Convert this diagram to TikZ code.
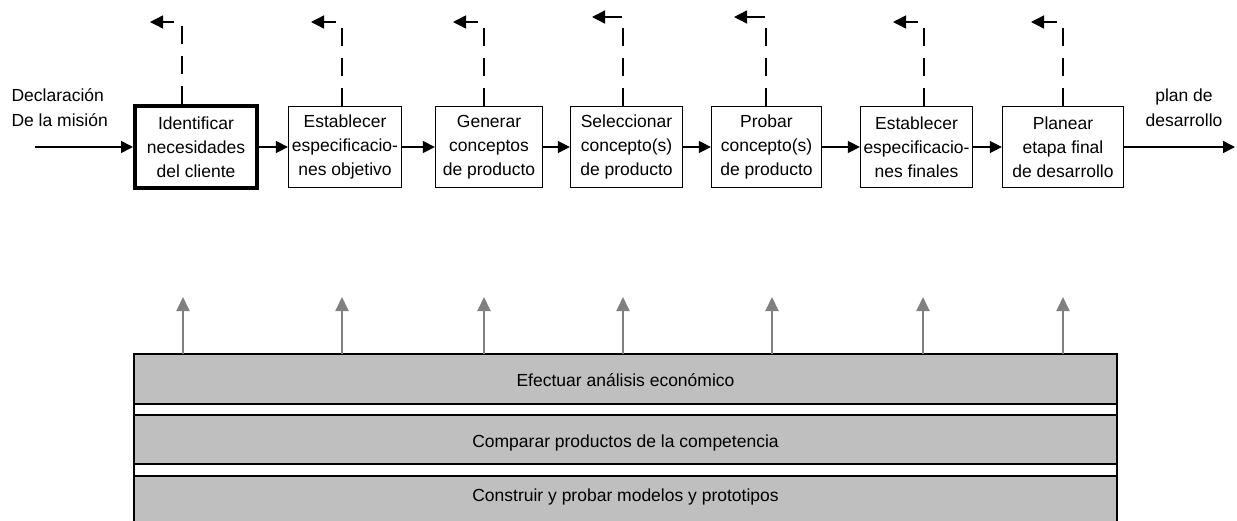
\documentclass[tikz,border=0pt]{standalone}
\usepackage{fontspec}
\setmainfont{Liberation Sans}
\usepackage{xcolor}
\usetikzlibrary{positioning, calc, arrows.meta}

\tikzset{
  stage/.style={draw, line width=1.3pt, inner sep=0pt, minimum height=81pt, align=center, font=\fontsize{17.5}{24}\selectfont},
  flow/.style={line width=1.5pt, -{Triangle[length=12pt,width=12pt]}},
  feedback/.style={line width=1.3pt, dash pattern=on 18pt off 12pt, -{Triangle[length=13pt,width=13pt]}},
  support/.style={draw=gray, line width=2pt, -{Triangle[length=14pt,width=13pt]}},
  bar/.style={draw, line width=1.3pt, fill=lightgray, minimum width=983pt, inner sep=0pt, outer sep=0pt, text height=15pt, text depth=0pt, font=\fontsize{17.5}{24}\selectfont},
}

\begin{document}
\begin{tikzpicture}[x=1pt, y=-1pt]
        \path[use as bounding box] (0,0) rectangle (1237,520);
        \clip (0,0) rectangle (1237,520);
        % etapas
        \node[stage, line width=4pt, minimum width=122pt, minimum height=82pt] (b1) at (196,147) {Identificar\\necesidades\\del cliente};
        \node[stage, minimum width=113pt] (b2) at (345,147) {Establecer\\especificacio-\\nes objetivo};
        \node[stage, minimum width=107pt] (b3) at (489,147) {Generar\\conceptos\\de producto};
        \node[stage, minimum width=112pt] (b4) at (626.5,147) {Seleccionar\\concepto(s)\\de producto};
        \node[stage, minimum width=110pt] (b5) at (766.5,147) {Probar\\concepto(s)\\de producto};
        \node[stage, minimum width=112pt] (b6) at (916.5,147) {Establecer\\especificacio-\\nes finales};
        \node[stage, minimum width=121pt] (b7) at (1063,147) {Planear\\etapa final\\de desarrollo};
        \node[anchor=west, align=left, font=\fontsize{17.5}{25}\selectfont] (mision) at (8,108) {Declaración\\De la misión};
        \node[align=center, font=\fontsize{17.5}{25}\selectfont] (plan) at (1184,108) {plan de\\desarrollo};
        \coordinate (in) at (35,147);
        \coordinate (out) at (1235,147);
        \draw[flow] (in) -- (b1);
        \draw[flow] (b1) -- (b2);
        \draw[flow] (b2) -- (b3);
        \draw[flow] (b3) -- (b4);
        \draw[flow] (b4) -- (b5);
        \draw[flow] (b5) -- (b6);
        \draw[flow] (b6) -- (b7);
        \draw[flow] (b7) -- (out);
        % retroalimentacion
        \coordinate (r1) at (150,22);
        \coordinate (r2) at (311,22);
        \coordinate (r3) at (453,22);
        \coordinate (r4) at (592,17);
        \coordinate (r5) at (734,17);
        \coordinate (r6) at (893,22);
        \coordinate (r7) at (1031,22);
        \draw[feedback] ([xshift=-14pt]b1.north) |- (r1);
        \draw[feedback] ([xshift=-3pt]b2.north) |- (r2);
        \draw[feedback] ([xshift=-5pt]b3.north) |- (r3);
        \draw[feedback] ([xshift=-3.5pt]b4.north) |- (r4);
        \draw[feedback] ([xshift=-0.5pt]b5.north) |- (r5);
        \draw[feedback] ([xshift=7.5pt]b6.north) |- (r6);
        \draw[feedback] (b7.north) |- (r7);
        % actividades de soporte
        \node[bar, minimum height=50pt] (bar1) at (625.5,379) {Efectuar análisis económico};
        \node[bar, minimum height=49pt] (bar2) at (625.5,439.5) {Comparar productos de la competencia};
        \node[bar, anchor=north, text height=25pt, text depth=39pt] (bar3) at (625.5,476) {Construir y probar modelos y prototipos};
        \draw[line width=1.3pt] (bar1.south west) -- (bar3.north west);
        \draw[line width=1.3pt] (bar1.south east) -- (bar3.north east);
        \coordinate (u1) at (183,297);
        \coordinate (u2) at (342,297);
        \coordinate (u3) at (484,297);
        \coordinate (u4) at (623,297);
        \coordinate (u5) at (772,297);
        \coordinate (u6) at (923,297);
        \coordinate (u7) at (1063,297);
        \draw[support] (u1 |- bar1.north) -- (u1);
        \draw[support] (u2 |- bar1.north) -- (u2);
        \draw[support] (u3 |- bar1.north) -- (u3);
        \draw[support] (u4 |- bar1.north) -- (u4);
        \draw[support] (u5 |- bar1.north) -- (u5);
        \draw[support] (u6 |- bar1.north) -- (u6);
        \draw[support] (u7 |- bar1.north) -- (u7);
    \end{tikzpicture}
\end{document}
